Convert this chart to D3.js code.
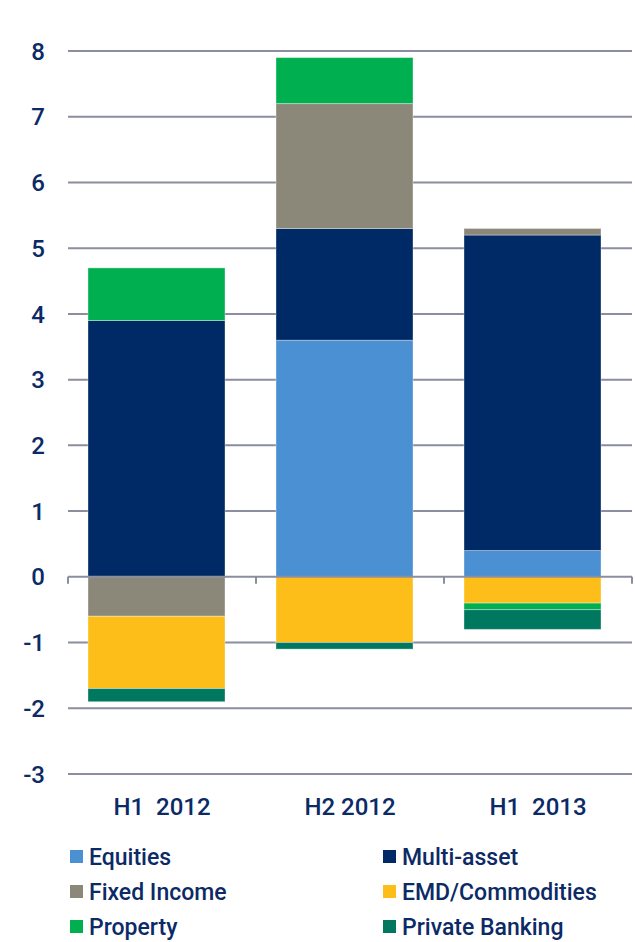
<!DOCTYPE html>
<html>
<head>
<meta charset="utf-8">
<script src="https://cdn.jsdelivr.net/npm/d3@7"></script>
<style>
  body { margin: 0; background: #fff; }
  text { font-family: Roboto, "Liberation Sans", sans-serif; font-weight: 500; fill: #0b2a66; }
</style>
</head>
<body>
<div id="app"></div>
<script>
const categories = ["H1  2012", "H2 2012", "H1  2013"];
const seriesKeys = ["Equities", "Multi-asset", "Fixed Income", "EMD/Commodities", "Property", "Private Banking"];
const equities = [0, 3.6, 0.4];
const multiAsset = [3.9, 1.7, 4.8];
const fixedIncome = [-0.6, 1.9, 0.1];
const emdCommodities = [-1.1, -1.0, -0.4];
const property = [0.8, 0.7, -0.1];
const privateBanking = [-0.2, -0.1, -0.3];
const yTicks = [-3, -2, -1, 0, 1, 2, 3, 4, 5, 6, 7, 8];
const colors = ["#4a90d2", "#002a65", "#8b887a", "#fdbe1a", "#00b050", "#00775f"];
const legendOrder = ["Equities", "Multi-asset", "Fixed Income", "EMD/Commodities", "Property", "Private Banking"];

const d3 = window.d3;
const width = 635, height = 942;
const plot = { left: 68, right: 632, top: 51, bottom: 774 };

const values = [equities, multiAsset, fixedIncome, emdCommodities, property, privateBanking];
const table = categories.map((c, i) => {
  const row = { category: c };
  seriesKeys.forEach((k, j) => { row[k] = values[j][i]; });
  return row;
});

const stack = d3.stack().keys(seriesKeys).offset(d3.stackOffsetDiverging);
const series = stack(table);

// category bands span the axis; bars sit 20px into each band
const band = d3.scaleBand().domain(categories).range([plot.left, plot.right]);
const x = d3.scaleBand().domain(categories)
  .range([plot.left + 20, plot.left + 20 + band.step() * 3 - 51])
  .paddingInner(51 / band.step()).paddingOuter(0);
const y = d3.scaleLinear().domain([-3, 8]).range([plot.bottom, plot.top]);
const color = d3.scaleOrdinal().domain(seriesKeys).range(colors);

const svg = d3.select("#app").append("svg").attr("width", width).attr("height", height);

// gridlines
svg.append("g")
  .selectAll("line")
  .data(yTicks.filter(t => t !== 0))
  .join("line")
  .attr("x1", plot.left).attr("x2", plot.right)
  .attr("y1", d => y(d)).attr("y2", d => y(d))
  .attr("stroke", "#8a8e9e").attr("stroke-width", 2);

// y labels
svg.append("g")
  .selectAll("text")
  .data(yTicks)
  .join("text")
  .attr("x", 45).attr("y", d => y(d))
  .attr("dy", "0.36em")
  .attr("text-anchor", "end")
  .style("font-size", "24px")
  .text(d => d);

// bars
svg.append("g")
  .selectAll("g")
  .data(series)
  .join("g")
  .attr("fill", d => color(d.key))
  .selectAll("rect")
  .data(d => d)
  .join("rect")
  .attr("x", d => x(d.data.category))
  .attr("width", x.bandwidth())
  .attr("y", d => y(Math.max(d[0], d[1])))
  .attr("height", d => Math.abs(y(d[0]) - y(d[1])))
  .attr("stroke", "rgba(255,255,255,0.35)")
  .attr("stroke-width", 1);

// zero axis with ticks between categories
const axis = svg.append("g");
axis.append("line")
  .attr("x1", plot.left).attr("x2", plot.right)
  .attr("y1", y(0)).attr("y2", y(0))
  .attr("stroke", "#8a8e9e").attr("stroke-width", 2);
const boundaries = categories.map(c => band(c)).concat([plot.right]);
axis.selectAll(".tick")
  .data(boundaries)
  .join("line")
  .attr("class", "tick")
  .attr("x1", d => d).attr("x2", d => d)
  .attr("y1", y(0)).attr("y2", y(0) + 7)
  .attr("stroke", "#8a8e9e").attr("stroke-width", 2);

// category labels
svg.append("g")
  .selectAll("text")
  .data(categories)
  .join("text")
  .attr("x", d => band(d) + band.bandwidth() / 2)
  .attr("y", 815)
  .attr("text-anchor", "middle")
  .attr("xml:space", "preserve")
  .style("white-space", "pre")
  .style("font-size", "24px")
  .text(d => d);

// legend
const legend = svg.append("g");
const items = legend.selectAll("g")
  .data(legendOrder)
  .join("g")
  .attr("transform", (d, i) => `translate(${i % 2 === 0 ? 70 : 383}, ${857 + Math.floor(i / 2) * 35})`);
items.append("rect")
  .attr("x", 0).attr("y", -7)
  .attr("width", 13).attr("height", 13)
  .attr("fill", d => color(d));
items.append("text")
  .attr("x", 19).attr("y", 0)
  .attr("dy", "0.36em")
  .style("font-size", "23px")
  .text(d => d);
</script>
</body>
</html>
